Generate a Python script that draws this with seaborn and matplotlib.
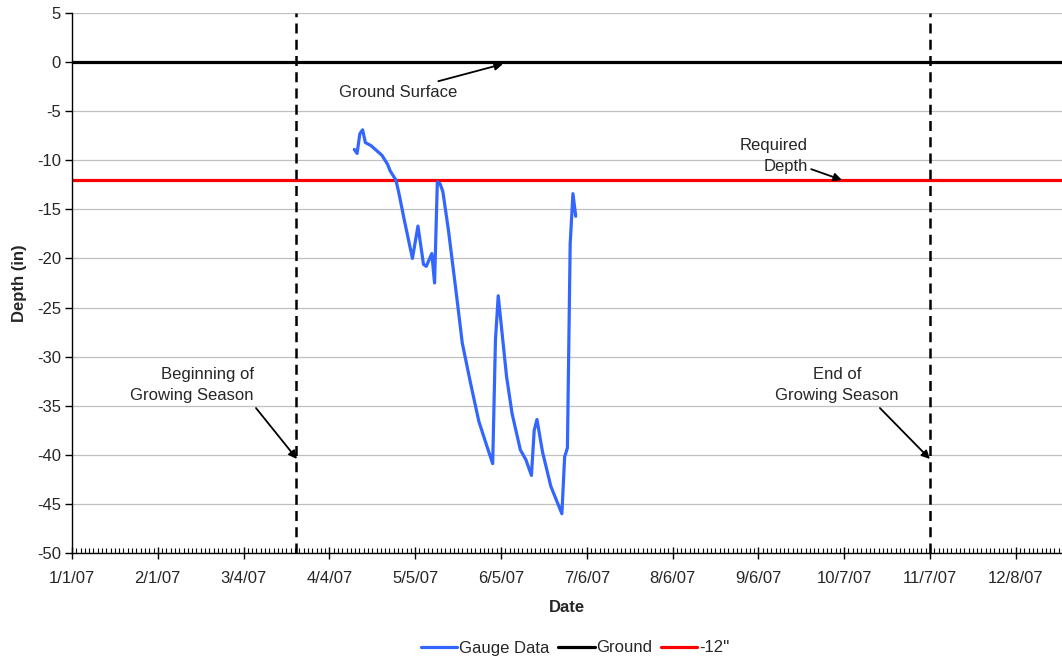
import numpy as np
import pandas as pd
import matplotlib
matplotlib.use("Agg")
import matplotlib.pyplot as plt
import matplotlib.dates as mdates
from matplotlib.ticker import FixedLocator, FuncFormatter, AutoMinorLocator
import seaborn as sns
from datetime import datetime, timedelta

# ---------------- data ----------------
gauge_dates = ["2007-04-13", "2007-04-14", "2007-04-15", "2007-04-16", "2007-04-17",
               "2007-04-19", "2007-04-21", "2007-04-23", "2007-04-25", "2007-04-26",
               "2007-04-28", "2007-04-29", "2007-05-01", "2007-05-04", "2007-05-06",
               "2007-05-08", "2007-05-09", "2007-05-11", "2007-05-12", "2007-05-13",
               "2007-05-14", "2007-05-15", "2007-05-17", "2007-05-20", "2007-05-22",
               "2007-05-25", "2007-05-28", "2007-05-31", "2007-06-02", "2007-06-03",
               "2007-06-04", "2007-06-07", "2007-06-09", "2007-06-12", "2007-06-14",
               "2007-06-16", "2007-06-17", "2007-06-18", "2007-06-20", "2007-06-23",
               "2007-06-27", "2007-06-28", "2007-06-29", "2007-06-30", "2007-07-01",
               "2007-07-02"]
gauge_depth = [-8.9, -9.3, -7.3, -6.9, -8.2,
               -8.5, -9.0, -9.5, -10.4, -11.1,
               -12.0, -13.2, -16.0, -20.0, -16.7,
               -20.6, -20.8, -19.5, -22.5, -12.2,
               -12.4, -13.2, -17.1, -23.9, -28.6,
               -32.7, -36.6, -39.2, -40.9, -28.3,
               -23.8, -32.0, -35.8, -39.5, -40.5,
               -42.1, -37.5, -36.4, -39.7, -43.2,
               -46.0, -40.2, -39.3, -18.5, -13.4,
               -15.7]
ground_dates = ["2007-01-01", "2008-01-01"]
ground_depth = [0, 0]
required_dates = ["2007-01-01", "2008-01-01"]
required_depth = [-12, -12]
series_names = ["Gauge Data", "Ground", "-12''"]
season_dates = ["2007-03-23", "2007-11-07"]
y_ticks = list(range(-50, 6, 5))
x_tick_dates = [datetime(2007, 1, 1) + timedelta(days=31 * k) for k in range(12)]

# ---------------- frame ----------------
df = pd.concat([
    pd.DataFrame({"date": pd.to_datetime(gauge_dates), "depth": gauge_depth, "series": series_names[0]}),
    pd.DataFrame({"date": pd.to_datetime(ground_dates), "depth": ground_depth, "series": series_names[1]}),
    pd.DataFrame({"date": pd.to_datetime(required_dates), "depth": required_depth, "series": series_names[2]}),
], ignore_index=True)

sns.set_theme(style="white")
plt.rcParams["font.family"] = ["Liberation Sans", "DejaVu Sans"]
plt.rcParams["axes.unicode_minus"] = False
FS = 12

fig = plt.figure(figsize=(10.62, 6.62), dpi=100)
ax = fig.add_axes([72 / 1062, 1 - 553 / 662, 1 - 72 / 1062, (553 - 13) / 662])

ax.set_axisbelow(True)
ax.yaxis.grid(True, color="#c0c0c0", linewidth=0.9)
ax.xaxis.grid(False)

palette = {series_names[0]: "#3366ff", series_names[1]: "#000000", series_names[2]: "#ff0000"}
sns.lineplot(data=df, x="date", y="depth", hue="series", palette=palette,
             hue_order=series_names, sort=False, estimator=None, linewidth=2.3,
             ax=ax, legend=True)
for ln in ax.get_lines():
    if ln.get_color() == "#3366ff":
        ln.set_zorder(5)

for d in season_dates:
    ax.axvline(pd.Timestamp(d), color="black", linewidth=1.8, linestyle=(0, (4, 2.5)), zorder=4)

x0 = mdates.date2num(datetime(2007, 1, 1))
ax.set_xlim(x0, x0 + 357.7)
ax.set_ylim(-50, 5)

ax.xaxis.set_major_locator(FixedLocator(mdates.date2num(x_tick_dates)))
ax.xaxis.set_major_formatter(FuncFormatter(
    lambda v, p: (lambda d: f"{d.month}/{d.day}/{d.strftime('%y')}")(mdates.num2date(v))))
ax.xaxis.set_minor_locator(AutoMinorLocator(20))
ax.yaxis.set_major_locator(FixedLocator(y_ticks))

ax.tick_params(axis="x", which="major", direction="inout", length=8, width=1, color="black",
               labelsize=FS, pad=9)
ax.tick_params(axis="x", which="minor", direction="in", length=3.5, width=0.8, color="black")
ax.tick_params(axis="y", which="major", direction="out", length=5, width=1, color="black",
               labelsize=FS, pad=3)
ax.tick_params(bottom=True, left=True, which="both")
ax.tick_params(axis="y", which="minor", left=False)

for s in ["top", "right"]:
    ax.spines[s].set_visible(False)
for s in ["left", "bottom"]:
    ax.spines[s].set_color("black")
    ax.spines[s].set_linewidth(1.0)

ax.set_xlabel("Date", fontsize=FS, fontweight="bold", labelpad=10)
ax.set_ylabel("Depth (in)", fontsize=FS, fontweight="bold", labelpad=7)

def px2data(px, py):
    return x0 + (px - 72) / 2.768, 5 - (py - 13) / 9.818

arrow = dict(arrowstyle="-|>", color="black", lw=1.3, mutation_scale=12, shrinkA=0, shrinkB=0)
ax.annotate("Ground Surface", xy=px2data(503, 64), xytext=px2data(457, 92),
            ha="right", va="center", fontsize=FS, arrowprops=arrow, zorder=6)
ax.annotate("Required\nDepth", xy=px2data(842, 180), xytext=px2data(808, 156),
            ha="right", va="center", multialignment="right", fontsize=FS,
            arrowprops=arrow, zorder=6, linespacing=1.45)
ax.annotate("", xy=px2data(297, 459), xytext=px2data(256, 408), arrowprops=arrow, zorder=6)
ax.text(*px2data(254, 385), "Beginning of\nGrowing Season", ha="right", va="center",
        multialignment="right", fontsize=FS, linespacing=1.45)
ax.annotate("", xy=px2data(930, 459), xytext=px2data(880, 408), arrowprops=arrow, zorder=6)
ax.text(*px2data(837, 385), "End of\nGrowing Season", ha="center", va="center",
        multialignment="center", fontsize=FS, linespacing=1.45)

handles, labels = ax.get_legend_handles_labels()
ax.get_legend().remove()
fig.legend(handles, labels, loc="center", bbox_to_anchor=(575 / 1062, 1 - 648 / 662),
           ncol=3, frameon=False, fontsize=FS, handlelength=2.2, handletextpad=0.1,
           columnspacing=0.5)

fig.savefig("out.png", dpi=100)
